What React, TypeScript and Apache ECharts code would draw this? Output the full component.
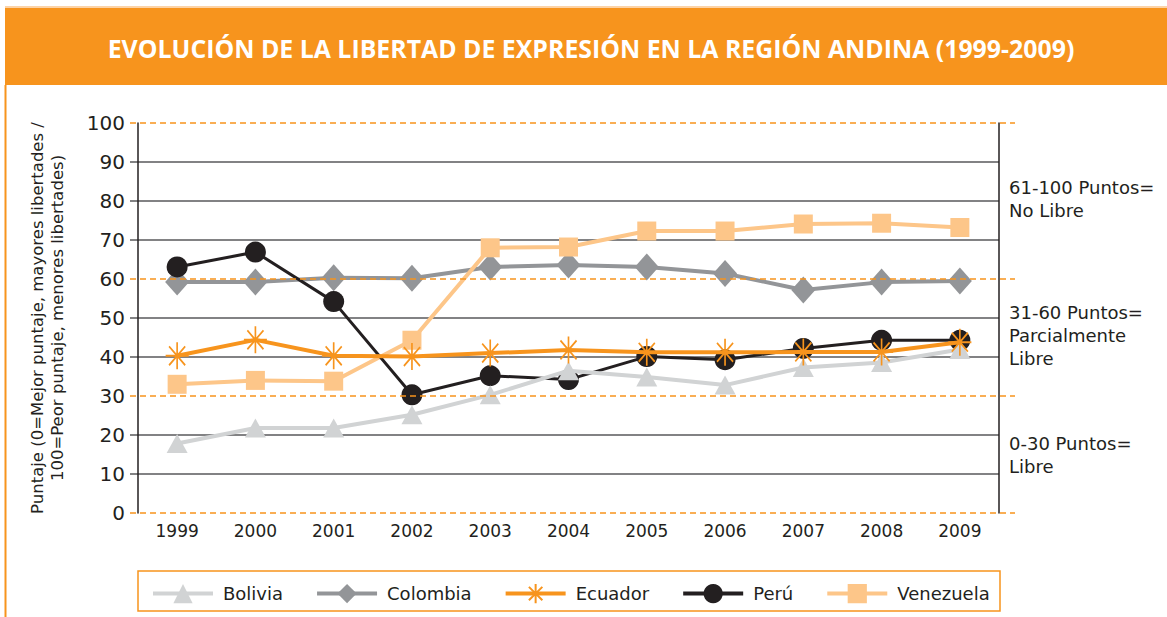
import React, { useEffect, useRef } from "react";
import * as echarts from "echarts";

const years = ["1999", "2000", "2001", "2002", "2003", "2004", "2005", "2006", "2007", "2008", "2009"];
const bolivia = [17.8, 21.8, 21.8, 25.2, 30.3, 36.5, 34.9, 32.8, 37.3, 38.6, 41.9];
const colombia = [59.2, 59.2, 60.3, 60.2, 63.1, 63.6, 63.1, 61.4, 57.2, 59.2, 59.5];
const ecuador = [40.3, 44.4, 40.3, 40.1, 41.0, 41.8, 41.2, 41.2, 41.3, 41.3, 43.8];
const peru = [63.1, 66.9, 54.2, 30.3, 35.2, 34.2, 40.1, 39.3, 42.2, 44.3, 44.3];
const venezuela = [33.0, 34.0, 33.8, 44.3, 68.0, 68.2, 72.3, 72.3, 74.1, 74.3, 73.2];

const yTicks = [0, 10, 20, 30, 40, 50, 60, 70, 80, 90, 100];
const bandLimits = [0, 30, 60, 100];
const bandLabels = [
  { text: "0-30 Puntos=\nLibre", mid: 15 },
  { text: "31-60 Puntos=\nParcialmente\nLibre", mid: 45.5 },
  { text: "61-100 Puntos=\nNo Libre", mid: 80.5 },
];
const title = "EVOLUCIÓN DE LA LIBERTAD DE EXPRESIÓN EN LA REGIÓN ANDINA (1999-2009)";
const yName = "Puntaje (0=Mejor puntaje, mayores libertades /\n100=Peor puntaje, menores libertades)";

const ORANGE = "#F7941D";
const DARK = "#231F20";
const GRIDC = "#58595B";
const FONT = "DejaVu Sans";

const asterisk = "path://M10,0L10,20M0,10L20,10M3,3L17,17M17,3L3,17";

export default function App() {
  const ref = useRef<HTMLDivElement>(null);
  useEffect(() => {
    if (!ref.current) return;
    const chart = echarts.init(ref.current, null, { renderer: "svg" });
    const mk = (name: string, data: number[], color: string, symbol: string, size: any, lw: number, z: number, extra: any = {}) => ({
      name,
      type: "line",
      data,
      z,
      symbol,
      symbolSize: size,
      lineStyle: { color, width: lw },
      itemStyle: { color, ...extra },
      emphasis: { disabled: true },
    });
    chart.setOption({
      animation: false,
      grid: { left: 138, right: 168, top: 123, bottom: 104 },
      xAxis: {
        type: "category",
        data: years,
        boundaryGap: true,
        axisLine: { show: false },
        axisTick: { show: false },
        axisLabel: { color: DARK, fontSize: 17, fontFamily: FONT, margin: 9 },
      },
      yAxis: [
        {
          type: "value",
          min: 0,
          max: 100,
          interval: 10,
          name: yName,
          nameLocation: "middle",
          nameRotate: 90,
          nameGap: 71,
          nameTextStyle: { color: DARK, fontSize: 16.5, fontFamily: FONT, lineHeight: 20 },
          axisLine: { show: true, lineStyle: { color: DARK, width: 1.5 } },
          axisTick: { show: false },
          axisLabel: { color: DARK, fontSize: 20, fontFamily: FONT, margin: 13 },
          splitLine: {
            show: true,
            lineStyle: {
              color: yTicks.map((v) => (bandLimits.includes(v) ? "rgba(0,0,0,0)" : GRIDC)),
              width: 1.5,
            },
          },
        },
        {
          type: "value",
          min: 0,
          max: 100,
          position: "right",
          axisLine: { show: true, lineStyle: { color: DARK, width: 1.5 } },
          axisTick: { show: false },
          axisLabel: { show: false },
          splitLine: { show: false },
        },
      ],
      legend: {
        data: ["Bolivia", "Colombia", "Ecuador", "Perú", "Venezuela"],
        left: 146,
        top: 578,
        itemWidth: 60,
        itemHeight: 24,
        itemGap: 32,
        lineStyle: { width: 4 },
        textStyle: { color: DARK, fontSize: 18, fontFamily: FONT, padding: [0, 0, 0, 5] },
      },
      series: [
        mk("Bolivia", bolivia, "#D1D3D4", "triangle", [21, 19], 4, 4),
        mk("Colombia", colombia, "#939598", "diamond", [24, 27], 4, 2),
        mk("Ecuador", ecuador, ORANGE, asterisk, [23, 27], 4, 5, { color: "rgba(0,0,0,0)", borderColor: ORANGE, borderWidth: 1.8 }),
        mk("Perú", peru, DARK, "circle", 21, 3, 3),
        mk("Venezuela", venezuela, "#FDC689", "rect", 19, 4, 2),
      ],
    });

    const yPix = (v: number) => chart.convertToPixel({ yAxisIndex: 0 }, v) as number;
    const graphics: any[] = [];
    graphics.push({ type: "rect", shape: { x: 5, y: 8, width: 1162, height: 77 }, style: { fill: ORANGE }, z: 0 });
    graphics.push({ type: "line", shape: { x1: 5, y1: 7, x2: 1167, y2: 7 }, style: { stroke: "#FBC58A", lineWidth: 1.5 } });
    graphics.push({ type: "line", shape: { x1: 5.5, y1: 85, x2: 5.5, y2: 617 }, style: { stroke: ORANGE, lineWidth: 2 } });
    let scale = 1;
    try {
      const c = document.createElement("canvas").getContext("2d");
      if (c) {
        c.font = "bold 25px 'Open Sans'";
        const w = c.measureText(title).width;
        scale = 967 / w;
      }
    } catch (e) {}
    graphics.push({
      type: "text",
      x: 591,
      y: 48,
      scaleX: scale,
      style: { text: title, fill: "#fff", font: "bold 25px 'Open Sans'", align: "center", verticalAlign: "middle" },
    });
    yTicks.forEach((v) => {
      const y = yPix(v);
      if (bandLimits.includes(v)) {
        graphics.push({
          type: "line",
          shape: { x1: 130, y1: y, x2: 1015, y2: y },
          style: { stroke: ORANGE, lineWidth: 1.5, lineDash: [6, 4] },
          z: 10,
        });
      } else {
        graphics.push({ type: "line", shape: { x1: 130, y1: y, x2: 138, y2: y }, style: { stroke: GRIDC, lineWidth: 1.5 } });
      }
    });
    bandLabels.forEach((b) => {
      graphics.push({
        type: "text",
        x: 1009,
        y: yPix(b.mid),
        style: { text: b.text, fill: DARK, font: `18px '${FONT}'`, lineHeight: 23, align: "left", verticalAlign: "middle" },
      });
    });
    graphics.push({
      type: "rect",
      shape: { x: 138, y: 571, width: 862, height: 40 },
      style: { fill: "none", stroke: ORANGE, lineWidth: 1.5 },
    });
    chart.setOption({ graphic: graphics });
    return () => chart.dispose();
  }, []);
  return <div ref={ref} style={{ position: "fixed", left: 0, top: 0, width: 1167, height: 617, background: "#fff" }} />;
}
